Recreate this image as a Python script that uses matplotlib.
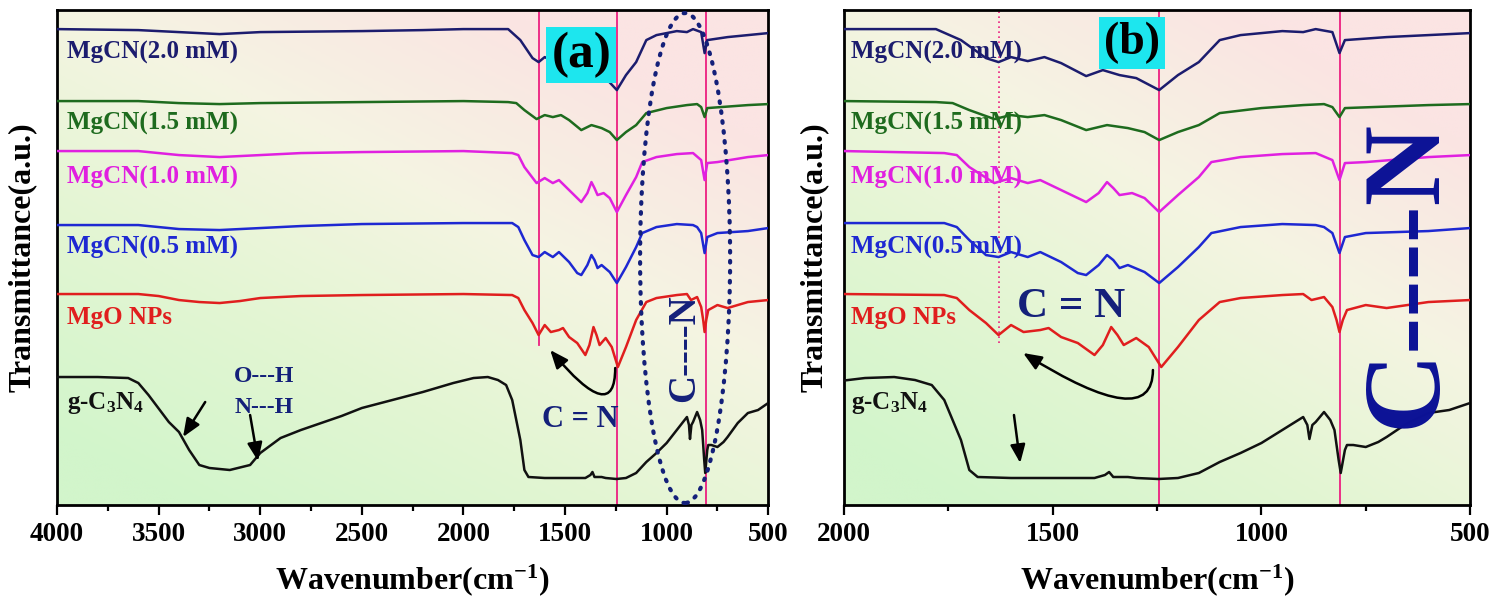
import numpy as np
import matplotlib.pyplot as plt
from matplotlib.patches import Ellipse
from matplotlib.colors import LinearSegmentedColormap

plt.rcParams['font.family'] = ['Liberation Serif', 'DejaVu Serif']
plt.rcParams['font.weight'] = 'bold'
plt.rcParams['mathtext.fontset'] = 'custom'
plt.rcParams['mathtext.rm'] = 'Liberation Serif:bold'
plt.rcParams['mathtext.it'] = 'Liberation Serif:bold'
plt.rcParams['mathtext.bf'] = 'Liberation Serif:bold'

# FTIR spectra, transmittance in arbitrary units (offset stacked)
gcn_wn = [4000, 3800, 3650, 3600, 3550, 3450, 3400, 3350, 3300, 3250, 3150, 3050, 3000,
          2900, 2800, 2700, 2600, 2500, 2350, 2200, 2050, 1950, 1880, 1830, 1790, 1760,
          1720, 1700, 1680, 1600, 1500, 1400, 1375, 1365, 1355, 1320, 1300, 1247, 1200,
          1150, 1100, 1050, 1000, 950, 900, 890, 885, 878, 870, 850, 835, 825, 815, 810,
          800, 795, 780, 750, 720, 700, 650, 600, 550, 500]
gcn_t = [128, 128, 127, 122, 110, 83, 73, 55, 40, 37, 35, 40, 52,
         67, 75, 82, 89, 97, 105, 113, 122, 127, 128, 125, 120, 105,
         65, 35, 28, 27, 27, 27, 30, 33, 28, 28, 27, 26, 27,
         32, 43, 52, 62, 75, 88, 80, 66, 80, 83, 93, 85, 75, 45, 32,
         55, 60, 60, 58, 63, 68, 82, 92, 95, 102]

mgo_wn = [4000, 3600, 3500, 3400, 3300, 3200, 3100, 3000, 2800, 2500, 2000, 1760, 1730,
          1700, 1660, 1630, 1600, 1570, 1530, 1510, 1480, 1440, 1400, 1380, 1360, 1345,
          1330, 1300, 1270, 1240, 1200, 1150, 1100, 1050, 950, 900, 880, 850, 830, 820,
          813, 805, 795, 750, 700, 650, 600, 500]
mgo_t = [211, 211, 209, 205, 203, 202, 204, 207, 209, 210, 211, 210, 207,
         195, 182, 170, 180, 173, 175, 177, 168, 162, 150, 160, 178, 170,
         160, 167, 158, 138, 158, 185, 203, 207, 210, 211, 205, 208, 198, 185,
         173, 185, 195, 200, 197, 200, 203, 205]

c05_wn = [4000, 3600, 3500, 3400, 3200, 3000, 2800, 2500, 2000, 1760, 1730, 1700, 1660,
          1630, 1600, 1560, 1530, 1480, 1440, 1420, 1390, 1370, 1355, 1340, 1320, 1280,
          1245, 1200, 1150, 1120, 1050, 950, 870, 850, 830, 813, 800, 750, 600, 500]
c05_t = [280, 280, 278, 276, 275, 277, 279, 281, 282, 282, 278, 265, 250,
         248, 253, 248, 253, 243, 232, 230, 240, 250, 245, 237, 240, 233,
         222, 238, 258, 272, 278, 281, 280, 278, 272, 252, 268, 272, 274, 277]

c10_wn = [4000, 3600, 3400, 3200, 3000, 2800, 2500, 2000, 1760, 1730, 1700, 1640, 1600,
          1560, 1530, 1480, 1420, 1390, 1370, 1355, 1340, 1310, 1280, 1245, 1200, 1150,
          1120, 1050, 950, 870, 830, 813, 800, 750, 600, 500]
c10_t = [354, 354, 350, 348, 350, 352, 353, 354, 352, 350, 338, 322, 327,
         322, 325, 315, 303, 312, 323, 317, 310, 312, 307, 293, 310, 328,
         343, 348, 351, 352, 345, 325, 342, 343, 348, 350]

c15_wn = [4000, 3600, 3400, 3200, 3000, 2500, 2000, 1780, 1740, 1700, 1640, 1600, 1560,
          1520, 1480, 1420, 1370, 1320, 1280, 1245, 1200, 1150, 1100, 1000, 900, 850,
          830, 813, 800, 600, 500]
c15_t = [404, 404, 402, 401, 402, 403, 404, 403, 402, 395, 386, 390, 388,
         390, 385, 375, 380, 377, 373, 365, 373, 380, 392, 397, 400, 401,
         398, 388, 397, 400, 401]

c20_wn = [4000, 3600, 3400, 3200, 3000, 2500, 2200, 2000, 1780, 1720, 1660, 1630, 1600,
          1560, 1520, 1480, 1420, 1380, 1340, 1300, 1245, 1200, 1150, 1100, 1050, 1000,
          950, 900, 870, 830, 813, 800, 700, 500]
c20_t = [476, 475, 473, 471, 473, 474, 475, 476, 476, 465, 447, 443, 448,
         444, 448, 442, 429, 435, 430, 427, 415, 430, 443, 465, 470, 472,
         474, 473, 476, 473, 452, 465, 468, 472]

sample_names = ['MgCN(2.0 mM)', 'MgCN(1.5 mM)', 'MgCN(1.0 mM)', 'MgCN(0.5 mM)',
                'MgO NPs', 'g-C$_3$N$_4$']
label_levels = [453, 382, 328, 258, 188, 102]
colors = ['#1c1c6e', '#1e6b1e', '#e020e0', '#1e28d2', '#e01e1e', '#111111']
spectra = [(c20_wn, c20_t), (c15_wn, c15_t), (c10_wn, c10_t),
           (c05_wn, c05_t), (mgo_wn, mgo_t), (gcn_wn, gcn_t)]

PINK = '#ec1f80'
NAVY = '#14207a'


def paint_background(ax):
    u, v = np.meshgrid(np.linspace(0, 1, 300), np.linspace(0, 1, 200))
    t = np.clip(0.55 * u + 0.75 * v - 0.1, 0, 1)
    cmap = LinearSegmentedColormap.from_list(
        'bg', ['#d2f5cb', '#e3f6d3', '#f5f4e2', '#fbe4e3'])
    ax.imshow(t, cmap=cmap, extent=[0, 1, 0, 1], transform=ax.transAxes,
              origin='lower', aspect='auto', zorder=0, interpolation='bilinear')


def setup_axes(ax, xmax, label_x):
    paint_background(ax)
    for (wn, t), c in zip(spectra, colors):
        ax.plot(wn, t, color=c, lw=1.8, zorder=3)
    for name, lev, c in zip(sample_names, label_levels, colors):
        ax.text(label_x, lev, name, color=c, fontsize=18, fontweight='bold',
                ha='left', va='center', zorder=4)
    ax.set_xlim(xmax, 500)
    ax.set_ylim(0, 495)
    ax.set_yticks([])
    ax.set_xticks(np.arange(500, xmax + 1, 500))
    ax.set_xticks(np.arange(500, xmax + 1, 250), minor=True)
    ax.tick_params(axis='x', which='major', direction='out', length=7, width=1.6,
                   labelsize=19.5, pad=5)
    ax.tick_params(axis='x', which='minor', direction='out', length=4, width=1.6)
    for sp in ax.spines.values():
        sp.set_linewidth(2)
    ax.set_xlabel('Wavenumber(cm$^{-1}$)', fontsize=23, fontweight='bold')
    ax.xaxis.set_label_coords(0.5, -0.115)
    ax.set_ylabel('Transmittance(a.u.)', fontsize=23, fontweight='bold')


def arrow(ax, start, end, conn='arc3,rad=0'):
    ax.annotate('', xy=end, xytext=start, zorder=5,
                arrowprops=dict(arrowstyle='-|>,head_length=1.1,head_width=0.45',
                                color='k', lw=1.8, mutation_scale=10,
                                shrinkA=0, shrinkB=0, connectionstyle=conn))


fig = plt.figure(figsize=(14.94, 6.05), dpi=100)
ax1 = fig.add_axes([0.0382, 0.1653, 0.476, 0.818])
ax2 = fig.add_axes([0.565, 0.1653, 0.419, 0.818])

# panel (a)
setup_axes(ax1, 4000, 3950)
ax1.yaxis.set_label_coords(-0.029, 0.5)
ax1.axvline(1630, ymin=160 / 495, ymax=1, color=PINK, lw=1.3, zorder=2)
ax1.axvline(1245, color=PINK, lw=1.3, zorder=2)
ax1.axvline(808, color=PINK, lw=1.3, zorder=2)
ax1.text(1420, 450, '(a)', fontsize=37, fontweight='bold', ha='center', va='center',
         zorder=6, bbox=dict(boxstyle='square,pad=0.1', fc='#1de6ee', ec='none'))
ax1.add_patch(Ellipse((909, 247), 443, 490, fill=False, ec=NAVY, lw=3,
                      ls=(0, (0.4, 2.0)), capstyle='round', zorder=4))
ax1.text(913, 157, 'C----N', rotation=90, fontsize=28, fontweight='bold',
         color=NAVY, ha='center', va='center', zorder=5)
ax1.text(1425, 86, 'C = N', fontsize=22, fontweight='bold', color=NAVY,
         ha='center', va='center', zorder=5)
ax1.text(2981, 129, 'O---H', fontsize=17, fontweight='bold', color=NAVY,
         ha='center', va='center', zorder=5)
ax1.text(2981, 98, 'N---H', fontsize=17, fontweight='bold', color=NAVY,
         ha='center', va='center', zorder=5)
arrow(ax1, (3271, 103), (3380, 68))
arrow(ax1, (3050, 90), (3011, 44))
arrow(ax1, (1253, 137), (1573, 155), 'angle3,angleA=90,angleB=-50')

# panel (b)
setup_axes(ax2, 2000, 1983)
ax2.yaxis.set_label_coords(-0.025, 0.5)
ax2.axvline(1630, ymin=162 / 495, ymax=1, color=PINK, lw=1.2, ls=(0, (1, 2)), zorder=2)
ax2.axvline(1245, color=PINK, lw=1.3, zorder=2)
ax2.axvline(811, color=PINK, lw=1.3, zorder=2)
ax2.text(1310, 462, '(b)', fontsize=33, fontweight='bold', ha='center', va='center',
         zorder=6, bbox=dict(boxstyle='square,pad=0.1', fc='#1de6ee', ec='none'))
ax2.text(1456, 198, 'C = N', fontsize=31, fontweight='bold', color=NAVY,
         ha='center', va='center', zorder=5)
ax2.text(649, 232, 'C----N', rotation=90, fontsize=80, fontweight='bold',
         color='#0c1296', ha='center', va='center', zorder=5)
arrow(ax2, (1593, 90), (1578, 42))
arrow(ax2, (1260, 135), (1571, 152), 'angle3,angleA=90,angleB=-32')

fig.savefig('out.png', dpi=100)
